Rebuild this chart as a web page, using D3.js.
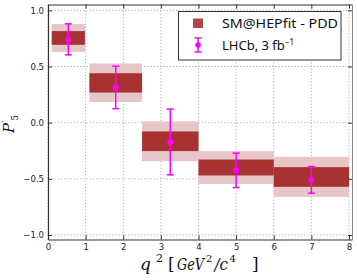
<!DOCTYPE html>
<html><head><meta charset="utf-8">
<script src="https://cdn.jsdelivr.net/npm/d3@7"></script>
<style>body{margin:0;background:#fff}svg{display:block}</style>
</head><body><svg id="c" width="357" height="280"></svg>
<script>
const binLo = [0.1, 1.1, 2.5, 4.0, 6.0];
const binHi = [0.98, 2.5, 4.0, 6.0, 8.0];
const smDarkLo = [0.693, 0.268, -0.253, -0.47, -0.571];
const smDarkHi = [0.815, 0.44, -0.078, -0.328, -0.396];
const smLightLo = [0.63, 0.184, -0.343, -0.545, -0.661];
const smLightHi = [0.878, 0.527, 0.012, -0.253, -0.304];
const lhcbX = [0.54, 1.8, 3.25, 5.0, 7.0];
const lhcbY = [0.741, 0.313, -0.173, -0.423, -0.509];
const lhcbLo = [0.604, 0.125, -0.464, -0.578, -0.628];
const lhcbHi = [0.88, 0.503, 0.121, -0.271, -0.39];
const xTicks = [0,1,2,3,4,5,6,7,8];
const yTicks = [-1.0,-0.5,0.0,0.5,1.0];

const svg = d3.select("#c");
const L=48, R=352, T=4.5, B=239.5;
const x = d3.scaleLinear().domain([0, 8.08]).range([L, R]);
const y = d3.scaleLinear().domain([-1.04, 1.052]).range([B, T]);
const dark = "#a83232", light = "#e6c6c6", mag = "#ff00ff";

// grid
const g = svg.append("g");
g.selectAll(".gx").data(xTicks).join("line")
  .attr("x1", d=>x(d)).attr("x2", d=>x(d)).attr("y1", T).attr("y2", B)
  .attr("stroke", "#999").attr("stroke-width", 0.8).attr("stroke-dasharray", "1.2,2");
g.selectAll(".gy").data(yTicks).join("line")
  .attr("x1", L).attr("x2", R).attr("y1", d=>y(d)).attr("y2", d=>y(d))
  .attr("stroke", "#999").attr("stroke-width", 0.8).attr("stroke-dasharray", "1.2,2");

// SM boxes
const idx = d3.range(binLo.length);
svg.append("g").selectAll("rect").data(idx).join("rect")
  .attr("x", i=>x(binLo[i])).attr("width", i=>x(binHi[i])-x(binLo[i]))
  .attr("y", i=>y(smLightHi[i])).attr("height", i=>y(smLightLo[i])-y(smLightHi[i]))
  .attr("fill", light);
svg.append("g").selectAll("rect").data(idx).join("rect")
  .attr("x", i=>x(binLo[i])).attr("width", i=>x(binHi[i])-x(binLo[i]))
  .attr("y", i=>y(smDarkHi[i])).attr("height", i=>y(smDarkLo[i])-y(smDarkHi[i]))
  .attr("fill", dark);

// LHCb
const eg = svg.append("g").attr("stroke", mag).attr("stroke-width", 1.5);
idx.forEach(i=>{
  const cx = x(lhcbX[i]);
  eg.append("line").attr("x1", cx).attr("x2", cx).attr("y1", y(lhcbHi[i])).attr("y2", y(lhcbLo[i]));
  eg.append("line").attr("x1", cx-3.5).attr("x2", cx+3.5).attr("y1", y(lhcbHi[i])).attr("y2", y(lhcbHi[i]));
  eg.append("line").attr("x1", cx-3.5).attr("x2", cx+3.5).attr("y1", y(lhcbLo[i])).attr("y2", y(lhcbLo[i]));
  svg.append("circle").attr("cx", cx).attr("cy", y(lhcbY[i])).attr("r", 3).attr("fill", mag);
});

// axes
const ax = svg.append("g").attr("transform", `translate(0,${B})`)
  .call(d3.axisBottom(x).tickValues(xTicks).tickFormat(d3.format("d")).tickSizeInner(-4).tickSizeOuter(0).tickPadding(4));
const ay = svg.append("g").attr("transform", `translate(${L},0)`)
  .call(d3.axisLeft(y).tickValues(yTicks).tickFormat(d=>d3.format(".1f")(d).replace("-", "\u2212")).tickSizeInner(-4).tickSizeOuter(0).tickPadding(4));
const axT = svg.append("g").attr("transform", `translate(0,${T})`)
  .call(d3.axisTop(x).tickValues(xTicks).tickFormat("").tickSizeInner(-4).tickSizeOuter(0));
const axR = svg.append("g").attr("transform", `translate(${R},0)`)
  .call(d3.axisRight(y).tickValues(yTicks).tickFormat("").tickSizeInner(-4).tickSizeOuter(0));
[ax, ay, axT, axR].forEach(a=>{
  a.selectAll("text").attr("font-family", "DejaVu Sans").attr("font-size", 8.5).attr("fill", "#222");
  a.selectAll(".tick line").attr("stroke", "#333");
});
ax.select(".domain").attr("stroke", "#333").attr("stroke-width", 1.2);
ay.select(".domain").attr("stroke", "#333").attr("stroke-width", 1.2);
axT.select(".domain").attr("stroke", "#333").attr("stroke-width", 1.2);
axR.select(".domain").attr("stroke", "#888").attr("stroke-width", 1);

// legend
const lg = svg.append("g");
lg.append("rect").attr("x", 178.5).attr("y", 11.5).attr("width", 162.5).attr("height", 48.5)
  .attr("fill", "#fff").attr("stroke", "#333").attr("stroke-width", 1);
lg.append("rect").attr("x", 193).attr("y", 18.5).attr("width", 10).attr("height", 9.5).attr("fill", "#b24545");
const lx = 198;
lg.append("line").attr("x1", lx).attr("x2", lx).attr("y1", 38).attr("y2", 52).attr("stroke", mag).attr("stroke-width", 1.5);
lg.append("line").attr("x1", lx-3.5).attr("x2", lx+3.5).attr("y1", 38).attr("y2", 38).attr("stroke", mag).attr("stroke-width", 1.5);
lg.append("line").attr("x1", lx-3.5).attr("x2", lx+3.5).attr("y1", 52).attr("y2", 52).attr("stroke", mag).attr("stroke-width", 1.5);
lg.append("circle").attr("cx", lx).attr("cy", 45).attr("r", 2.8).attr("fill", mag);
const lf = "'Comic Sans MS', 'Noto Sans', sans-serif";
lg.append("text").attr("x", 222).attr("y", 28).attr("font-family", lf).attr("font-size", 13).attr("fill", "#111")
  .attr("textLength", 116).attr("lengthAdjust", "spacingAndGlyphs").text("SM@HEPfit - PDD");
const t2 = lg.append("text").attr("x", 222).attr("y", 50).attr("font-family", lf).attr("font-size", 13).attr("fill", "#111");
t2.append("tspan").text("LHCb, 3 fb");
t2.append("tspan").attr("dy", -5).attr("font-size", 8).text("\u22121");

// axis titles
const sf = "'DejaVu Serif', 'Liberation Serif', serif";
const xl = svg.append("text").attr("y", 270).attr("font-family", sf).attr("font-size", 17).attr("fill", "#111");
xl.append("tspan").attr("x", 140).attr("font-style", "italic").text("q");
xl.append("tspan").attr("x", 156).attr("dy", -8).attr("font-size", 11).text("2");
xl.append("tspan").attr("x", 168).attr("dy", 8).text("[");
xl.append("tspan").attr("x", 177).attr("font-style", "italic").attr("textLength", 27).attr("lengthAdjust", "spacingAndGlyphs").text("GeV");
xl.append("tspan").attr("x", 206).attr("dy", -8).attr("font-size", 10).text("2");
xl.append("tspan").attr("x", 214.5).attr("dy", 8).attr("font-style", "italic").attr("textLength", 13.5).attr("lengthAdjust", "spacingAndGlyphs").text("/c");
xl.append("tspan").attr("x", 229.5).attr("dy", -8).attr("font-size", 10).text("4");
xl.append("tspan").attr("x", 252).attr("dy", 8).text("]");

const yl = svg.append("text").attr("transform", "translate(13.5,133) rotate(-90)")
  .attr("font-family", sf).attr("font-size", 15).attr("fill", "#111");
yl.append("tspan").attr("x", 0).attr("font-style", "italic").text("P");
yl.append("tspan").attr("x", 10.5).attr("dy", -5).attr("font-size", 10).text("\u2032");
yl.append("tspan").attr("x", 12.5).attr("dy", 9.5).attr("font-size", 8.5).text("5");
</script></body></html>
